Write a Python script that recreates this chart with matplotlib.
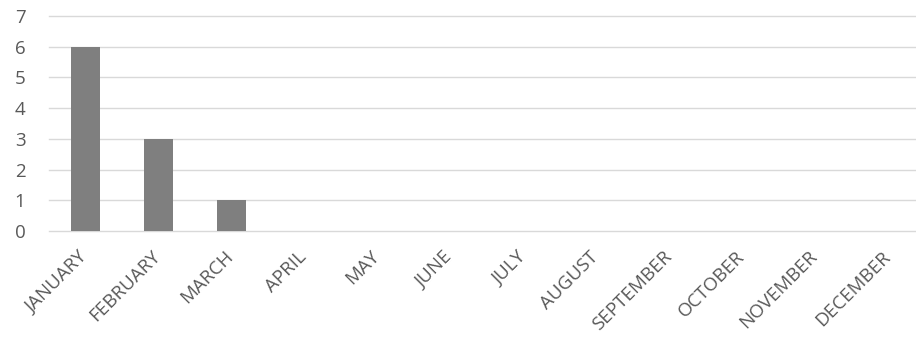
import matplotlib
matplotlib.use("Agg")
import matplotlib.pyplot as plt
from matplotlib.transforms import ScaledTranslation

months = ["JANUARY", "FEBRUARY", "MARCH", "APRIL", "MAY", "JUNE",
          "JULY", "AUGUST", "SEPTEMBER", "OCTOBER", "NOVEMBER", "DECEMBER"]
counts = [6, 3, 1, 0, 0, 0, 0, 0, 0, 0, 0, 0]
y_ticks = [0, 1, 2, 3, 4, 5, 6, 7]

W, H = 916, 346
fig = plt.figure(figsize=(W / 100, H / 100), dpi=100)
plt.rcParams["font.family"] = ["Open Sans", "DejaVu Sans"]

left, right, top, bottom = 49, 925, 16, 231
ax = fig.add_axes([left / W, 1 - bottom / H, (right - left) / W, (bottom - top) / H])

x = list(range(len(months)))
ax.bar(x, counts, width=0.4, color="#7f7f7f", zorder=3)

ax.set_xlim(-0.5, len(months) - 0.5)
ax.set_ylim(0, 7)
ax.set_yticks(y_ticks)
ax.set_yticklabels([str(v) for v in y_ticks])
ax.set_xticks(x)
ax.set_xticklabels(months, rotation=45, ha="right", va="top", rotation_mode="anchor")

ax.grid(axis="y", color="#d9d9d9", linewidth=1.0, zorder=0)
for gl in ax.get_ygridlines():
    gl.set_clip_on(False)
for s in ax.spines.values():
    s.set_visible(False)
ax.tick_params(axis="both", length=0, labelsize=13.5, labelcolor="#595959")
ax.tick_params(axis="y", pad=17)
ax.tick_params(axis="x", pad=12)

shift = ScaledTranslation(-7 / 100, 0, fig.dpi_scale_trans)
for lbl in ax.get_xticklabels():
    lbl.set_transform(lbl.get_transform() + shift)

fig.savefig("out.png", dpi=100)
